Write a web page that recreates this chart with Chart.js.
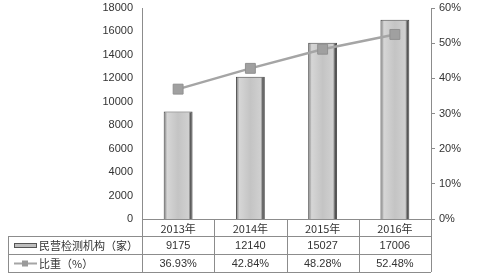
<!DOCTYPE html>
<html>
<head>
<meta charset="utf-8">
<script src="https://cdn.jsdelivr.net/npm/chart.js@4"></script>
<style>
  html, body { margin:0; padding:0; background:#fff; }
  #wrap { width:495px; height:279px; }
</style>
</head>
<body>
<div id="wrap"><canvas id="c" width="495" height="279"></canvas></div>
<script>
const years = ["2013年","2014年","2015年","2016年"];
const institutions = [9175, 12140, 15027, 17006];
const shares = [36.93, 42.84, 48.28, 52.48];
const seriesNames = ["民营检测机构（家）", "比重（%）"];

const numFont = "'Liberation Sans', sans-serif";
const cjkFont = "'Noto Sans CJK SC', sans-serif";

// bar fill: horizontal gray gradient, like a rounded metal bar
function barFill(ctx){
    const chart = ctx.chart;
    const area = chart.chartArea;
    if(!area) return "#bbb";
    const xs = chart.scales.x;
    const w = (area.right - area.left) / years.length * 0.4;
    const cx = xs.getPixelForValue(ctx.dataIndex);
    const g = chart.ctx.createLinearGradient(cx - w/2, 0, cx + w/2, 0);
    g.addColorStop(0, "#707070");
    g.addColorStop(0.12, "#d6d6d6");
    g.addColorStop(0.5, "#c4c4c4");
    g.addColorStop(0.86, "#d0d0d0");
    g.addColorStop(0.93, "#5a5a5a");
    g.addColorStop(1, "#3c3c3c");
    return g;
}

// data table under the plot
const tablePlugin = {
    id:"dataTable",
    afterDraw(chart){
        const c = chart.ctx;
        const a = chart.chartArea;
        const n = years.length;
        const cw = (a.right - a.left) / n;
        const rows = [a.bottom, 236, 254, 272];
        const x0 = 8;
        c.save();
        c.strokeStyle = "#8c8c8c";
        c.lineWidth = 1;
        c.beginPath();
        for(let i = 1; i < rows.length; i++){
            c.moveTo(x0, rows[i] + .5);
            c.lineTo(a.right, rows[i] + .5);
        }
        c.moveTo(x0 + .5, rows[1]);
        c.lineTo(x0 + .5, rows[3]);
        for(let i = 0; i <= n; i++){
            const x = Math.round(a.left + i*cw) + .5;
            c.moveTo(x, rows[0]);
            c.lineTo(x, rows[3]);
        }
        c.stroke();

        // legend keys
        const y1 = (rows[1] + rows[2]) / 2 + .5;
        const y2 = (rows[2] + rows[3]) / 2 + .5;
        c.fillStyle = "#bdbdbd";
        c.fillRect(14, y1 - 2, 22, 4);
        c.strokeStyle = "#555";
        c.strokeRect(14.5, y1 - 2, 22, 4);
        c.strokeStyle = "#a5a5a5";
        c.lineWidth = 2;
        c.beginPath();
        c.moveTo(14, y2);
        c.lineTo(37, y2);
        c.stroke();
        c.fillStyle = "#9a9a9a";
        c.fillRect(22, y2 - 3, 6, 6);

        c.fillStyle = "#333";
        c.textBaseline = "middle";
        c.textAlign = "left";
        c.font = "11px " + cjkFont;
        c.fillText(seriesNames[0], 39, y1);
        c.fillText(seriesNames[1], 39, y2);

        c.textAlign = "center";
        c.font = "11px " + numFont;
        for(let i = 0; i < n; i++){
            const cx = a.left + (i + .5)*cw;
            c.fillText(String(institutions[i]), cx, y1);
            c.fillText(shares[i].toFixed(2) + "%", cx, y2);
        }
        c.restore();
    }
};

new Chart(document.getElementById("c"),{

    type:"bar",

    data:{

        labels:years,

        datasets:[{
            type:"line",
            label:seriesNames[1],
            data:shares,
            yAxisID:"y1",
            borderColor:"#a5a5a5",
            borderWidth:2.5,
            pointStyle:"rect",
            pointRadius:7,
            pointBackgroundColor:"#a0a0a0",
            pointBorderColor:"#909090",
            pointBorderWidth:1,
            order:0
        },{
            label:seriesNames[0],
            data:institutions,
            yAxisID:"y",
            backgroundColor:barFill,
            borderColor:"#4a4a4a",
            borderWidth:1,
            categoryPercentage:1,
            barPercentage:.4,
            order:1
        }]

    },

    options:{

        responsive:false,
        animation:false,

        layout:{
            padding:0
        },

        plugins:{
            legend:{display:false},
            tooltip:{enabled:false}
        },

        scales:{
            x:{
                grid:{display:false, drawTicks:false},
                border:{color:"#8c8c8c"},
                ticks:{
                    padding:3,
                    color:"#333",
                    font:{family:cjkFont, size:11},
                    maxRotation:0
                },
                afterFit(s){ s.height = 60; }
            },
            y:{
                position:"left",
                min:0,
                max:18000,
                grid:{display:false, drawTicks:false},
                border:{color:"#8c8c8c"},
                ticks:{
                    stepSize:2000,
                    padding:9,
                    color:"#333",
                    font:{family:numFont, size:11},
                    callback:v => String(v)
                },
                afterFit(s){ s.width = 142; s.paddingTop = 7; s.paddingBottom = 0; }
            },
            y1:{
                position:"right",
                min:0,
                max:60,
                grid:{drawOnChartArea:false, tickLength:4, color:"#8c8c8c"},
                border:{color:"#8c8c8c"},
                ticks:{
                    stepSize:10,
                    padding:4,
                    color:"#333",
                    font:{family:numFont, size:11},
                    callback:v => v + "%"
                },
                afterFit(s){ s.width = 64; s.paddingTop = 7; s.paddingBottom = 0; }
            }
        }

    },

    plugins:[tablePlugin]

});
</script>
</body>
</html>
